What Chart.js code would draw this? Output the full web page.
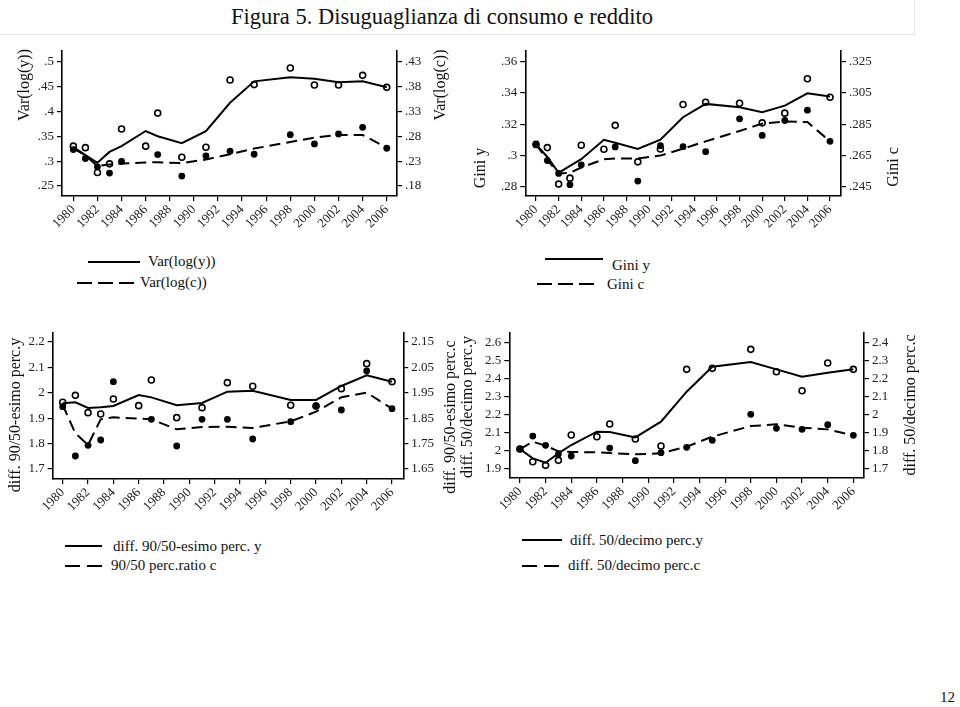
<!DOCTYPE html>
<html>
<head>
<meta charset="utf-8">
<script src="https://cdn.jsdelivr.net/npm/chart.js@4.4.1/dist/chart.umd.min.js"></script>
<style>
  html, body { margin:0; padding:0; background:#fff; }
  body { width:960px; height:707px; position:relative; overflow:hidden; font-family:"Liberation Serif","DejaVu Serif",serif; color:#111; }
  canvas.panel { position:absolute; }
  .t { position:absolute; white-space:nowrap; line-height:1; }
  .rot { transform:translate(-50%,-50%) rotate(-90deg); font-size:16px; }
  .lg { transform:translateY(-50%); font-size:15px; }
  .ln { position:absolute; height:2px; background:#000; }
  .dsh3 { position:absolute; height:2px; background:repeating-linear-gradient(to right,#000 0 15px,transparent 15px 21px); }
  .dsh2 { position:absolute; height:2px; background:repeating-linear-gradient(to right,#000 0 15px,transparent 15px 22px); }
  #titlebox { position:absolute; left:0; top:0; width:914px; height:34px; border-right:1px solid #e6e6e6; border-bottom:1px solid #e6e6e6; }
</style>
</head>
<body>
<div id="titlebox"></div>
<div class="t" style="left:442px;top:17px;transform:translate(-50%,-50%);font-size:22.5px;">Figura 5. Disuguaglianza di consumo e reddito</div>

<canvas id="c1" class="panel" style="left:0px;top:40px;" width="460" height="205"></canvas>
<canvas id="c2" class="panel" style="left:460px;top:40px;" width="460" height="205"></canvas>
<canvas id="c3" class="panel" style="left:0px;top:320px;" width="460" height="205"></canvas>
<canvas id="c4" class="panel" style="left:460px;top:320px;" width="460" height="205"></canvas>

<div class="t rot" style="left:24px;top:85px;">Var(log(y))</div>
<div class="t rot" style="left:440px;top:85px;">Var(log(c))</div>
<div class="t rot" style="left:480px;top:168px;">Gini y</div>
<div class="t rot" style="left:893px;top:167px;">Gini c</div>
<div class="t rot" style="left:15px;top:415px;">diff. 90/50-esimo perc.y</div>
<div class="t rot" style="left:450px;top:417px;">diff. 90/50-esimo perc.c</div>
<div class="t rot" style="left:467px;top:407px;">diff. 50/decimo perc.y</div>
<div class="t rot" style="left:910px;top:405px;">diff. 50/decimo perc.c</div>

<div class="ln" style="left:88px;top:261px;width:52px;"></div>
<div class="t lg" style="left:148px;top:261px;">Var(log(y))</div>
<div class="dsh3" style="left:77px;top:282px;width:57px;"></div>
<div class="t lg" style="left:140px;top:282px;">Var(log(c))</div>

<div class="ln" style="left:545px;top:258px;width:58px;"></div>
<div class="t lg" style="left:612px;top:265px;">Gini y</div>
<div class="dsh3" style="left:537px;top:283px;width:57px;"></div>
<div class="t lg" style="left:607px;top:284px;">Gini c</div>

<div class="ln" style="left:65px;top:545px;width:37px;"></div>
<div class="t lg" style="left:113px;top:546px;">diff. 90/50-esimo perc. y</div>
<div class="dsh2" style="left:65px;top:565px;width:37px;"></div>
<div class="t lg" style="left:111px;top:565px;">90/50 perc.ratio c</div>

<div class="ln" style="left:522px;top:539px;width:40px;"></div>
<div class="t lg" style="left:570px;top:540px;">diff. 50/decimo perc.y</div>
<div class="dsh2" style="left:522px;top:565px;width:40px;"></div>
<div class="t lg" style="left:568px;top:565px;">diff. 50/decimo perc.c</div>

<div class="t" style="left:940px;top:690px;font-size:15px;">12</div>

<script>
// ---------- data ----------
const years = [1980,1981,1982,1983,1984,1986,1987,1989,1991,1993,1995,1998,2000,2002,2004,2006];
const xTicks = [1980,1982,1984,1986,1988,1990,1992,1994,1996,1998,2000,2002,2004,2006];
const xTickLabels = ["1980","1982","1984","1986","1988","1990","1992","1994","1996","1998","2000","2002","2004","2006"];

// Panel 1: Var(log(y)) (left axis), Var(log(c)) (right axis)
const varLogYSmooth = [.328,.312,.2965,.3185,.330,.3604,.350,.3358,.360,.417,.460,.468,.4654,.458,.460,.448];
const varLogYRaw    = [.330,.327,.277,.2945,.3644,.330,.3963,.3078,.3278,.4628,.4535,.4867,.4528,.4528,.472,.448];
const varLogCSmooth = [.255,.2418,.2199,.2232,.2252,.2272,.2279,.2259,.2332,.2438,.2551,.2684,.277,.2824,.2824,.2571];
const varLogCRaw    = [.2531,.2352,.2186,.2059,.2292,null,.2432,.200,.2405,.2498,.2438,.283,.2644,.2844,.2977,.2558];
const p1LeftTicks = [.25,.3,.35,.4,.45,.5];
const p1LeftLabels = [".25",".3",".35",".4",".45",".5"];
const p1RightTicks = [.18,.23,.28,.33,.38,.43];
const p1RightLabels = [".18",".23",".28",".33",".38",".43"];

// Panel 2: Gini y (left), Gini c (right)
const giniYSmooth = [.3071,.299,.2889,.2933,.2976,.31,.3081,.3041,.31,.3244,.3329,.3308,.3276,.3318,.3397,.3376];
const giniYRaw    = [.3071,.305,.2817,.2855,.3065,.3039,.3192,.2959,.3041,.3325,.334,.3333,.3208,.327,.349,.3371];
const giniCSmooth = [.2721,.262,.2535,.2539,.2573,.2626,.263,.263,.2649,.2693,.274,.2806,.2853,.2867,.2863,.274];
const giniCRaw    = [.2717,.2617,.2535,.2463,.259,null,.2704,.2486,.2712,.2706,.2674,.2884,.2778,.2873,.2939,.274];
const p2LeftTicks = [.28,.30,.32,.34,.36];
const p2LeftLabels = [".28",".3",".32",".34",".36"];
const p2RightTicks = [.245,.265,.285,.305,.325];
const p2RightLabels = [".245",".265",".285",".305",".325"];

// Panel 3: diff. 90/50 y (left), c (right)
const d9050YSmooth = [1.9585,1.9625,1.940,1.943,1.948,1.991,1.982,1.9507,1.96,2.0045,2.0084,1.9717,1.9717,2.0268,2.0688,2.0438];
const d9050YRaw    = [1.9625,1.99,1.9218,1.9165,1.9756,1.9493,2.0504,1.9021,1.9415,2.0399,2.0255,1.9507,1.948,2.0163,2.1147,2.0438];
const d9050CSmooth = [1.902,1.7904,1.7445,1.8455,1.8534,1.8482,1.8455,1.8062,1.8154,1.8167,1.8114,1.8377,1.8757,1.9322,1.9505,1.8875];
const d9050CRaw    = [1.8954,1.7012,1.7432,1.7642,1.9938,null,1.8455,1.7406,1.8455,1.8455,1.7681,1.8364,1.898,1.8823,2.0358,1.8875];
const p3LeftTicks = [1.7,1.8,1.9,2.0,2.1,2.2];
const p3LeftLabels = ["1.7","1.8","1.9","2","2.1","2.2"];
const p3RightTicks = [1.65,1.75,1.85,1.95,2.05,2.15];
const p3RightLabels = ["1.65","1.75","1.85","1.95","2.05","2.15"];

// Panel 4: diff. 50/decimo y (left), c (right)
const d5010YSmooth = [2.0093,1.9574,1.9333,1.9852,2.0315,2.1056,2.1037,2.0741,2.1611,2.3278,2.4667,2.4926,2.4519,2.4111,2.4333,2.4519];
const d5010YRaw    = [2.0093,1.9389,1.9185,1.9463,2.087,2.0778,2.1481,2.0648,2.0259,2.4519,2.4574,2.563,2.4389,2.3333,2.487,2.4519];
const d5010CSmooth = [1.8093,1.85,1.8278,1.7963,1.7926,1.7907,1.787,1.7796,1.7852,1.8222,1.8778,1.937,1.9463,1.9278,1.9185,1.8852];
const d5010CRaw    = [1.8093,1.8815,1.8296,1.7815,1.7704,null,1.8148,1.7444,1.7889,1.8185,1.8574,2.0019,1.9241,1.9185,1.9444,1.8852];
const p4LeftTicks = [1.9,2.0,2.1,2.2,2.3,2.4,2.5,2.6];
const p4LeftLabels = ["1.9","2","2.1","2.2","2.3","2.4","2.5","2.6"];
const p4RightTicks = [1.7,1.8,1.9,2.0,2.1,2.2,2.3,2.4];
const p4RightLabels = ["1.7","1.8","1.9","2","2.1","2.2","2.3","2.4"];

// ---------- helpers ----------
const FONT = "'Liberation Serif','DejaVu Serif',serif";
function pts(vals){ return years.map((x,i)=>({x:x, y:vals[i]})).filter(p=>p.y!==null); }

function yAxis(pos, min, max, ticks, labels, width){
  return {
    type:'linear', position:pos, min:min, max:max, bounds:'data',
    afterBuildTicks: s => { s.ticks = ticks.map(v=>({value:v})); },
    afterFit: s => { s.width = width; },
    ticks:{ callback:(v,i)=>labels[i], color:'#222', font:{family:FONT,size:13}, padding:3, autoSkip:false },
    grid:{ drawOnChartArea:false, drawTicks:true, tickLength:5, color:'#000', lineWidth:1.2 },
    border:{ display:true, color:'#000', width:1.6 }
  };
}
function xAxis(min, max, height){
  return {
    type:'linear', position:'bottom', min:min, max:max, bounds:'data',
    afterBuildTicks: s => { s.ticks = xTicks.map(v=>({value:v})); },
    afterFit: s => { s.height = height; },
    ticks:{ callback:(v,i)=>xTickLabels[i], color:'#222', font:{family:FONT,size:13}, minRotation:45, maxRotation:45, autoSkip:false, padding:1 },
    grid:{ drawOnChartArea:false, drawTicks:true, tickLength:5, color:'#000', lineWidth:1.2 },
    border:{ display:true, color:'#000', width:1.6 }
  };
}
function makePanel(id, cfg){
  const ds = [
    { data:pts(cfg.ySmooth), yAxisID:'yL', showLine:true, borderColor:'#000', borderWidth:2, pointRadius:0, tension:0, fill:false },
    { data:pts(cfg.cSmooth), yAxisID:'yR', showLine:true, borderColor:'#000', borderWidth:2, borderDash:[11,6], pointRadius:0, tension:0, fill:false },
    { data:pts(cfg.cRaw), yAxisID:'yR', showLine:false, pointRadius:3.4, pointBorderWidth:0, pointBackgroundColor:'#000', pointBorderColor:'#000' },
    { data:pts(cfg.yRaw), yAxisID:'yL', showLine:false, pointRadius:3, pointBorderWidth:1.6, pointBackgroundColor:'#fff', pointBorderColor:'#000' }
  ];
  new Chart(document.getElementById(id), {
    type:'scatter',
    data:{ datasets: ds },
    options:{
      responsive:false, animation:false, events:[],
      layout:{ padding:{ top:cfg.top, left:0, right:0, bottom:0 } },
      plugins:{ legend:{display:false}, tooltip:{enabled:false} },
      scales:{
        x: xAxis(cfg.xmin, cfg.xmax, cfg.xh),
        yL: yAxis('left', cfg.lmin, cfg.lmax, cfg.lt, cfg.ll, cfg.lw),
        yR: yAxis('right', cfg.rmin, cfg.rmax, cfg.rt, cfg.rl, cfg.rw)
      }
    }
  });
}

makePanel('c1', { ySmooth:varLogYSmooth, yRaw:varLogYRaw, cSmooth:varLogCSmooth, cRaw:varLogCRaw,
  top:10, xh:49, lw:62, rw:63, xmin:1979.06, xmax:2006.85,
  lmin:.23, lmax:.5213, lt:p1LeftTicks, ll:p1LeftLabels, rmin:.16, rmax:.4513, rt:p1RightTicks, rl:p1RightLabels });
makePanel('c2', { ySmooth:giniYSmooth, yRaw:giniYRaw, cSmooth:giniCSmooth, cRaw:giniCRaw,
  top:10, xh:49, lw:65.3, rw:79, xmin:1979.05, xmax:2006.97,
  lmin:.2741, lmax:.3668, lt:p2LeftTicks, ll:p2LeftLabels, rmin:.2391, rmax:.3318, rt:p2RightTicks, rl:p2RightLabels });
makePanel('c3', { ySmooth:d9050YSmooth, yRaw:d9050YRaw, cSmooth:d9050CSmooth, cRaw:d9050CRaw,
  top:12.7, xh:46, lw:52.7, rw:56.7, xmin:1979.21, xmax:2006.89,
  lmin:1.6606, lmax:2.2366, lt:p3LeftTicks, ll:p3LeftLabels, rmin:1.6106, rmax:2.1866, rt:p3RightTicks, rl:p3RightLabels });
makePanel('c4', { ySmooth:d5010YSmooth, yRaw:d5010YRaw, cSmooth:d5010CSmooth, cRaw:d5010CRaw,
  top:12.7, xh:47, lw:49.3, rw:56, xmin:1979.17, xmax:2006.83,
  lmin:1.8483, lmax:2.6556, lt:p4LeftTicks, ll:p4LeftLabels, rmin:1.6483, rmax:2.4556, rt:p4RightTicks, rl:p4RightLabels });
</script>
</body>
</html>
